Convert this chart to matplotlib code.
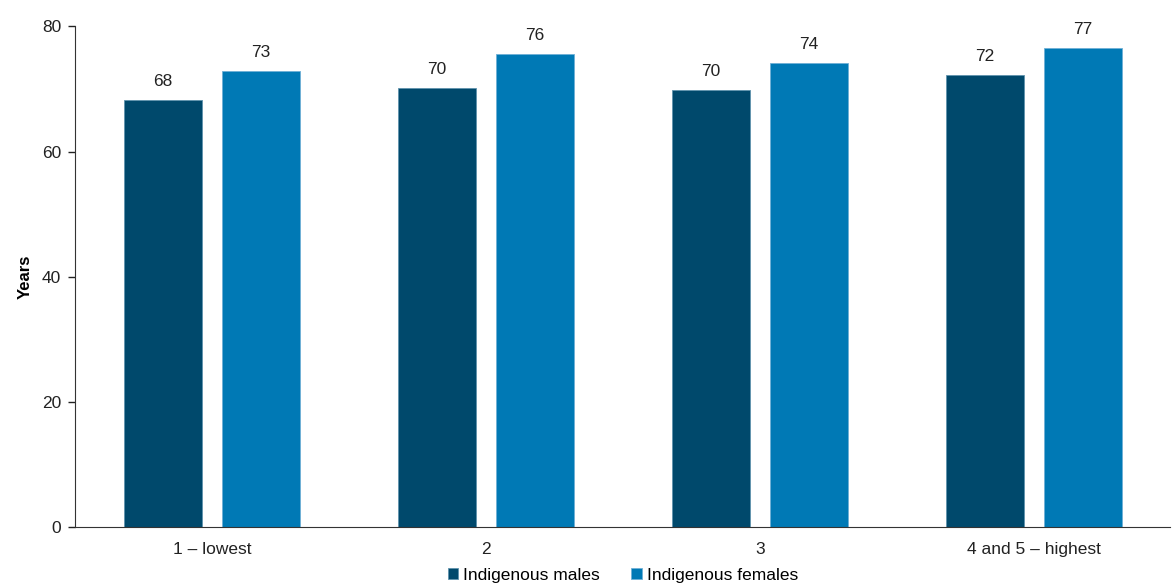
import numpy as np
import matplotlib.pyplot as plt

plt.rcParams['font.family'] = ['Liberation Sans', 'DejaVu Sans']

# datos
categorias = ['1 – lowest', '2', '3', '4 and 5 – highest']
hombres = [68.2, 70.2, 69.8, 72.2]
mujeres = [72.8, 75.6, 74.2, 76.6]
series = ['Indigenous males', 'Indigenous females']
colores = ['#00496c', '#0079b5']

fig = plt.figure(figsize=(11.74, 5.88), dpi=100)
ax = fig.add_axes([0.064, 0.104, 0.933, 0.851])

x = np.arange(len(categorias))
ancho = 0.285
desp = 0.179
b1 = ax.bar(x - desp, hombres, ancho, color=colores[0], edgecolor='#5f93ad', linewidth=0.6, label=series[0])
b2 = ax.bar(x + desp, mujeres, ancho, color=colores[1], edgecolor='#6fb0d6', linewidth=0.6, label=series[1])

for barras, vals in [(b1, hombres), (b2, mujeres)]:
    for b, v in zip(barras, vals):
        ax.annotate(f'{int(v + 0.5)}', (b.get_x() + b.get_width() / 2, v),
                    xytext=(0, 8), textcoords='offset points', ha='center', va='bottom',
                    fontsize=12.5, color='#222222')

ax.set_xlim(-0.5, 3.5)
ax.set_ylim(0, 80)
ax.set_yticks([0, 20, 40, 60, 80])
ax.set_xticks(x)
ax.set_xticklabels(categorias)
ax.tick_params(axis='x', length=0, pad=11, labelsize=12.5, colors='#222222')
ax.tick_params(axis='y', length=5, width=1, pad=5, labelsize=12.5, colors='#222222')
for s in ['top', 'right']:
    ax.spines[s].set_visible(False)
ax.spines['left'].set_color('#333333')
ax.spines['bottom'].set_color('#333333')
ax.set_ylabel('Years', fontsize=12, fontweight='bold', labelpad=7)

ax.legend(loc='upper center', bbox_to_anchor=(0.5, -0.068), ncol=2, frameon=False,
          fontsize=12.5, handlelength=0.6, handleheight=0.6, handletextpad=0.3, columnspacing=1.8,
          borderaxespad=0)

plt.savefig('out.png', dpi=100)
